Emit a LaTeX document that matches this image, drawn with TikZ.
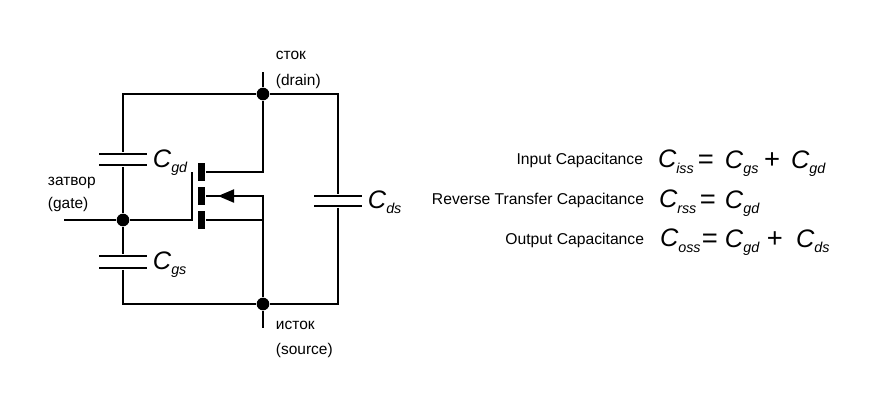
\documentclass[tikz,border=0pt]{standalone}
\usepackage{fontspec}
\setmainfont{Liberation Sans}
\usetikzlibrary{arrows.meta,positioning}
\newcommand{\capn}[1]{{\fontsize{18}{20}\selectfont\itshape C}{\fontsize{10.2}{12}\selectfont\itshape\raisebox{-4.2pt}{#1}}}
\newcommand{\opn}[1]{{\fontsize{19.5}{22}\selectfont #1}}
\begin{document}
\begin{tikzpicture}[x=0.025cm,y=-0.025cm,line width=1.4pt,
    every node/.style={font=\fontsize{11}{13}\selectfont,inner sep=0pt,anchor=base west},
    dot/.style={circle,fill=black,minimum size=9pt,anchor=center},
    plate/.style={fill=black,minimum width=48*0.025cm,minimum height=1.4pt,anchor=center},
    bar/.style={fill=black,minimum width=7*0.025cm,anchor=center},
    lbl/.style={font=\fontsize{11.15}{13}\selectfont,anchor=base east},
    eqn/.style={anchor=base west}]
\useasboundingbox (0,0) rectangle (878,404);
% junctions and free ends
\node[dot] (dr) at (263,94) {};
\node[dot] (so) at (263,304) {};
\node[dot] (ga) at (123,220) {};
\coordinate (drend) at (263,72);
\coordinate (soend) at (263,328);
\coordinate (gaend) at (64,220);
\coordinate (tl) at (123,94);
\coordinate (tr) at (338,94);
\coordinate (bl) at (123,304);
\coordinate (br) at (338,304);
% capacitors
\node[plate] (gd1) at (123,154) {};
\node[plate] (gd2) at (123,165) {};
\node[plate] (gs1) at (123,256) {};
\node[plate] (gs2) at (123,268) {};
\node[plate] (ds1) at (338,196) {};
\node[plate] (ds2) at (338,206) {};
% transistor
\node[bar,minimum height=18*0.025cm] (bd) at (201.5,172) {};
\node[bar,minimum height=18*0.025cm] (bb) at (201.5,196) {};
\node[bar,minimum height=18*0.025cm] (bs) at (201.5,220) {};
\coordinate (gtop) at (192,172);
\coordinate (gbot) at (192,220);
\coordinate (dk) at (263,172);
\coordinate (bk) at (263,196);
\coordinate (sk) at (263,220);
\coordinate (atip) at (218,196);
% wires
\draw (drend) -- (dr) -- (tr) -- (ds1);
\draw (ds2) -- (br) -- (so);
\draw (dr) -- (tl) -- (gd1);
\draw (gd2) -- (ga) -- (gs1);
\draw (gs2) -- (bl) -- (so) -- (soend);
\draw (gaend) -- (ga) -- (gbot) -- (gtop);
\draw (bd) -- (dk) -- (dr);
\draw (bb) -- (bk) -- (so);
\draw (bs) -- (sk);
\draw[-{Triangle[length=16*0.025cm,width=13*0.025cm]}] (bk) -- (atip);
% labels
\node at (47,185) {затвор};
\node at (47,208) {(gate)};
\node at (275,59) {сток};
\node at (275,85) {(drain)};
\node at (275,329) {исток};
\node at (275,354) {(source)};
\node (cgd) at (152,167) {\capn{gd}};
\node (cgs) at (152,269) {\capn{gs}};
\node (cds) at (367,208) {\capn{ds}};
% equations
\node[lbl] (in) at (644,164) {Input Capacitance};
\node[eqn,base right=0.325cm of in,yshift=-2.8pt] (ciss) {\capn{iss}};
\node[eqn] (e1) at (697,168) {\opn{=}};
\node[eqn] (cgs1) at (724,168) {\capn{gs}};
\node[eqn] (p1) at (763,168) {\opn{+}};
\node[eqn] (cgd1) at (790,168) {\capn{gd}};
\node[lbl] (re) at (645,204) {Reverse Transfer Capacitance};
\node[eqn,base right=0.325cm of re,yshift=-2.8pt] (crss) {\capn{rss}};
\node[eqn] (e2) at (699,208) {\opn{=}};
\node[eqn] (cgd2) at (724,208) {\capn{gd}};
\node[lbl] (ou) at (645,244) {Output Capacitance};
\node[eqn,base right=0.35cm of ou,yshift=-2.1pt] (coss) {\capn{oss}};
\node[eqn] (e3) at (701,247) {\opn{=}};
\node[eqn] (cgd3) at (724,247) {\capn{gd}};
\node[eqn] (p3) at (766,247) {\opn{+}};
\node[eqn] (cds3) at (795,247) {\capn{ds}};
\end{tikzpicture}
\end{document}
